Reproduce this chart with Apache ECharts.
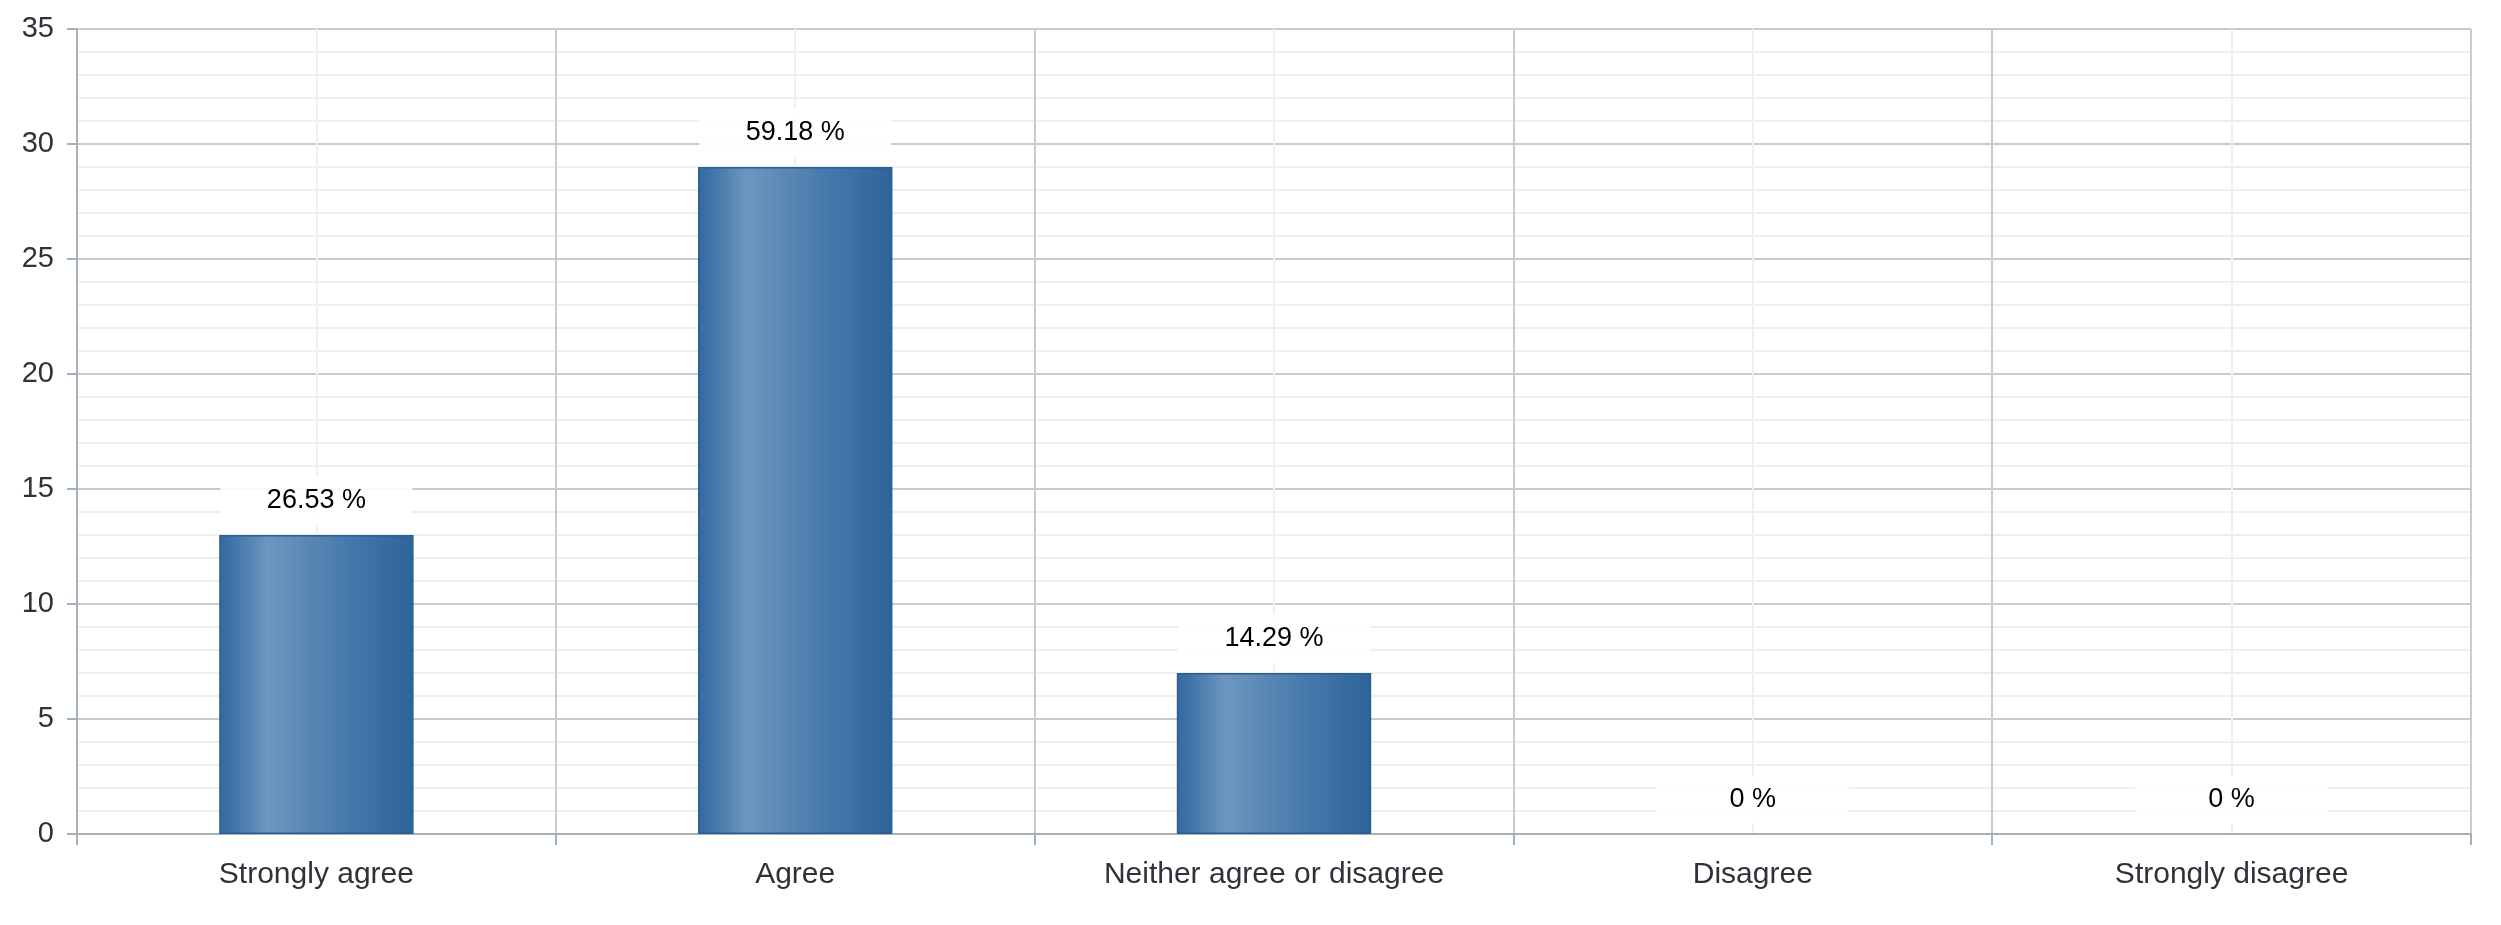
<!DOCTYPE html>
<html>
<head>
<meta charset="utf-8">
<script src="https://cdn.jsdelivr.net/npm/echarts@6/dist/echarts.min.js"></script>
<style>
  html, body { margin: 0; padding: 0; background: #fff; }
  #chart { width: 2501px; height: 925px; }
</style>
</head>
<body>
<div id="chart"></div>
<script>
const categories = ['Strongly agree', 'Agree', 'Neither agree or disagree', 'Disagree', 'Strongly disagree'];
const counts = [13, 29, 7, 0, 0];
const percentLabels = ['26.53 %', '59.18 %', '14.29 %', '0 %', '0 %'];
const yTicks = [0, 5, 10, 15, 20, 25, 30, 35];

const FONT = '"Liberation Sans", Arial, Helvetica, sans-serif';
const chart = echarts.init(document.getElementById('chart'), null, { renderer: 'canvas' });

const barGradient = new echarts.graphic.LinearGradient(0, 0, 1, 0, [
  { offset: 0, color: '#3468a0' },
  { offset: 0.06, color: '#3e72a7' },
  { offset: 0.25, color: '#6d97be' },
  { offset: 0.45, color: '#5a88b5' },
  { offset: 0.7, color: '#4476aa' },
  { offset: 1, color: '#2e6499' }
]);

const barData = counts.map(v => ({
  value: v,
  itemStyle: { borderWidth: v === 0 ? 0 : 1.5 }
}));

chart.setOption({
  animation: false,
  backgroundColor: '#ffffff',
  grid: { left: 77, right: 30, top: 29, bottom: 91, containLabel: false },
  xAxis: [
    {
      type: 'category',
      data: categories,
      boundaryGap: true,
      axisLine: { show: true, lineStyle: { color: '#a6b0b9', width: 2 } },
      axisTick: { show: true, length: 11, alignWithLabel: false, lineStyle: { color: '#a6b0b9', width: 2 } },
      axisLabel: { color: '#2d3338', fontSize: 30, fontFamily: FONT, margin: 26 },
      splitLine: { show: false }
    },
    {
      type: 'value',
      min: 0, max: 5, interval: 1,
      show: true,
      position: 'top',
      axisLine: { show: false },
      axisTick: { show: false },
      axisLabel: { show: false },
      splitLine: { show: true, lineStyle: { color: '#c5cdd4', width: 2 } },
      minorTick: { show: false, splitNumber: 2 },
      minorSplitLine: { show: true, lineStyle: { color: '#edf0f2', width: 2 } }
    }
  ],
  yAxis: {
    type: 'value',
    min: yTicks[0], max: yTicks[yTicks.length - 1], interval: 5,
    axisLine: { show: true, lineStyle: { color: '#a6b0b9', width: 2 } },
    axisTick: { show: true, length: 10, lineStyle: { color: '#a6b0b9', width: 2 } },
    axisLabel: { color: '#2d3338', fontSize: 29, fontFamily: FONT, margin: 23 },
    splitLine: { show: true, lineStyle: { color: '#c5cdd4', width: 2 } },
    minorTick: { show: false, splitNumber: 5 },
    minorSplitLine: { show: true, lineStyle: { color: '#edf0f2', width: 2 } }
  },
  series: [{
    type: 'bar',
    xAxisIndex: 0,
    data: barData,
    barWidth: '40.6%',
    itemStyle: { color: barGradient, borderColor: '#2b5d90', borderWidth: 1.5 },
    label: {
      show: true,
      position: 'top',
      distance: 9,
      formatter: (p) => percentLabels[p.dataIndex],
      color: '#000000',
      fontSize: 27,
      fontFamily: FONT,
      backgroundColor: 'rgba(255,255,255,0.9)',
      width: 192,
      align: 'center',
      padding: [11, 0, 11, 0],
      lineHeight: 28
    }
  }]
});
</script>
</body>
</html>
